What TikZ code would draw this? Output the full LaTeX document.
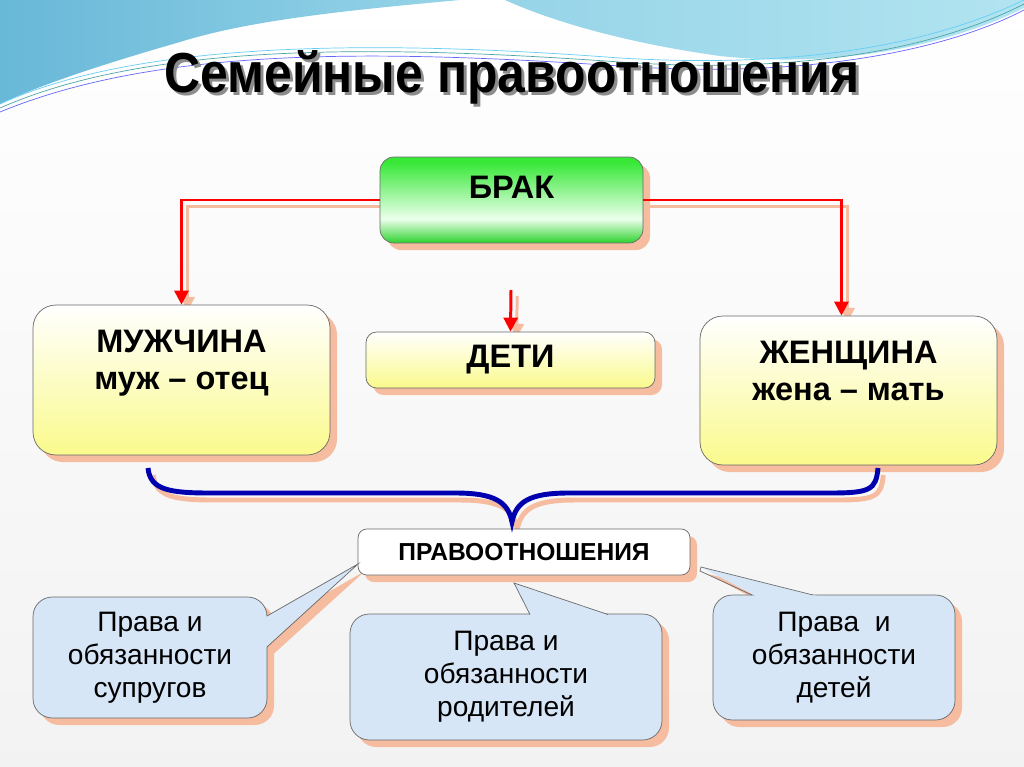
\documentclass[tikz,border=0pt]{standalone}
\usepackage{fontspec}
\setmainfont{Liberation Sans}
\usetikzlibrary{arrows.meta,shadows}
\definecolor{peach}{RGB}{245,188,160}
\definecolor{bluedeep}{RGB}{104,184,216}
\definecolor{bluesoft}{RGB}{150,212,232}
\definecolor{bluepale}{RGB}{178,228,240}
\definecolor{brakgreen}{RGB}{55,232,55}
\definecolor{brakdark}{RGB}{45,210,45}
\definecolor{brakpale}{RGB}{236,255,236}
\definecolor{paleyellow}{RGB}{250,250,140}
\definecolor{callblue}{RGB}{214,230,246}
\definecolor{braceblue}{RGB}{0,0,175}
\definecolor{linegray}{RGB}{105,105,105}
\pgfdeclareverticalshading{brakshading}{100bp}{color(0bp)=(brakdark); color(25bp)=(brakdark); color(39bp)=(brakpale); color(72bp)=(brakgreen); color(100bp)=(brakgreen)}
\pgfdeclarelayer{back}
\pgfsetlayers{back,main}
\begin{document}
\begin{tikzpicture}[x=0.02cm, y=-0.02cm,
    boxshadow/.style={drop shadow={shadow xshift=4pt, shadow yshift=-4pt, fill=peach, opacity=1}},
    yellowbox/.style={draw=linegray, thin, top color=white, bottom color=paleyellow, boxshadow,
        align=center, font=\fontsize{18.5}{21}\selectfont\bfseries},
    callbox/.style={draw=linegray, thin, fill=callblue, rounded corners=11pt, boxshadow,
        align=center, font=\fontsize{16}{18.7}\selectfont},
    redarrow/.style={draw=red, line width=1.7pt, -{Triangle[length=8pt,width=8pt]}},
    arrowshade/.style={draw=peach, line width=1.7pt, -{Triangle[length=8pt,width=8pt]},
        transform canvas={shift={(3.5pt,-3.5pt)}}}]
    \useasboundingbox (0,0) rectangle (1024,767);

    % Boxes
    \node[draw=linegray, thin, shading=brakshading, rounded corners=8pt, boxshadow,
        minimum width=5.26cm, minimum height=1.72cm, text depth=0.52cm,
        font=\fontsize{18.5}{21}\selectfont\bfseries] (brak) at (511.5,200) {БРАК};
    \node[yellowbox, rounded corners=13pt, minimum width=5.94cm, minimum height=3cm,
        text depth=0.8cm] (man) at (181.5,380) {МУЖЧИНА\\муж – отец};
    \node[yellowbox, rounded corners=6pt, minimum width=5.78cm, minimum height=1.12cm] (kids) at (510.5,360) {ДЕТИ};
    \node[yellowbox, rounded corners=13pt, minimum width=5.94cm, minimum height=2.98cm,
        text depth=0.8cm] (wife) at (848.5,390.5) {ЖЕНЩИНА\\жена – мать};
    \node[draw=linegray, thin, fill=white, rounded corners=5pt, boxshadow,
        minimum width=6.64cm, minimum height=0.92cm,
        font=\fontsize{14}{16}\selectfont\bfseries] (rel) at (524,552) {ПРАВООТНОШЕНИЯ};

    % Callouts
    \node[callbox, minimum width=4.68cm, minimum height=2.42cm] (callL) at (150,657.5) {Права и\\обязанности\\супругов};
    \node[callbox, minimum width=6.24cm, minimum height=2.52cm] (callM) at (506,677) {Права и\\обязанности\\родителей};
    \node[callbox, minimum width=4.84cm, minimum height=2.5cm] (callR) at (834,657.5) {Права~~и\\обязанности\\детей};
    \coordinate (tipL) at (358,564);
    \coordinate (tipM) at (514,583);
    \coordinate (tipR) at (701,567);
    \coordinate (kidsarr) at (511,290);

    % Title
    \node[anchor=base, black!45, font=\fontsize{28.4}{32}\selectfont\bfseries] (titleshade) at (515,95) {\scalebox{1}[1.13]{Семейные правоотношения}};
    \node[anchor=base, font=\fontsize{28.4}{32}\selectfont\bfseries] (title) at (512,92) {\scalebox{1}[1.13]{Семейные правоотношения}};

    \begin{pgfonlayer}{back}
        % Background and header
        \shade[top color=white, bottom color=black!5] (0,0) rectangle (1024,767);
        \shade[left color=bluedeep, right color=bluesoft] (0,0) -- (460,0) .. controls (350,10) and (250,20) .. (180,42)
            .. controls (100,65) and (40,85) .. (0,104) -- cycle;
        \shade[left color=bluesoft, right color=bluepale] (505,0) .. controls (560,25) and (640,45) .. (720,56)
            .. controls (850,70) and (960,40) .. (1024,8) -- (1024,0) -- cycle;
        \draw[teal!70, thin] (0,108) .. controls (150,42) and (380,45) .. (620,62) .. controls (820,76) and (950,42) .. (1024,4);
        \draw[blue!60, thin] (0,112) .. controls (160,46) and (380,50) .. (620,66) .. controls (820,80) and (955,46) .. (1024,10);
        \draw[cyan!60, thin] (0,104) .. controls (140,40) and (380,40) .. (620,58) .. controls (820,70) and (945,38) .. (1024,0);

        % Shadows of arrows, brace and callout tails
        \draw[arrowshade] (brak.west) -| (man.north);
        \draw[arrowshade] (brak.east) -| ([xshift=-4pt]wife.north);
        \draw[arrowshade] (kidsarr) -- (kids.north);
        \draw[peach, line width=2.8pt, transform canvas={shift={(3pt,-4pt)}}] (148,468) .. controls (150,490) and (170,493) .. (210,493) -- (455,493)
            .. controls (495,493) and (508,502) .. (512,522) .. controls (516,502) and (529,493) .. (569,493) -- (830,493)
            .. controls (870,493) and (876,490) .. (878,468);
        \fill[peach, transform canvas={shift={(4pt,-4pt)}}] (tipL) -- (262,619) -- (262,651) -- cycle;
        \fill[peach, transform canvas={shift={(4pt,-4pt)}}] (tipR) -- (763,600) -- (833,600) -- cycle;
    \end{pgfonlayer}

    % Callout tails
    \fill[callblue] (tipL) -- (262,619) -- (262,651) -- cycle;
    \draw[linegray, thin] (267,616) -- (tipL) -- (267,647);
    \fill[callblue] (tipM) -- (532,619) -- (620,619) -- cycle;
    \draw[linegray, thin] (530,614.5) -- (tipM) -- (608,614.5);
    \fill[callblue] (tipR) -- (763,600) -- (833,600) -- cycle;
    \draw[linegray, thin] (752,595) -- (700,571) -- (tipR) -- (813,595);

    % Arrows
    \draw[redarrow] (brak.west) -| (man.north);
    \draw[redarrow] (brak.east) -| ([xshift=-4pt]wife.north);
    \draw[redarrow] (kidsarr) -- (kids.north);

    % Brace
    \draw[braceblue, line width=2.8pt] (148,468) .. controls (150,490) and (170,493) .. (210,493) -- (455,493)
        .. controls (495,493) and (508,502) .. (512,522) .. controls (516,502) and (529,493) .. (569,493) -- (830,493)
        .. controls (870,493) and (876,490) .. (878,468);
\end{tikzpicture}
\end{document}
